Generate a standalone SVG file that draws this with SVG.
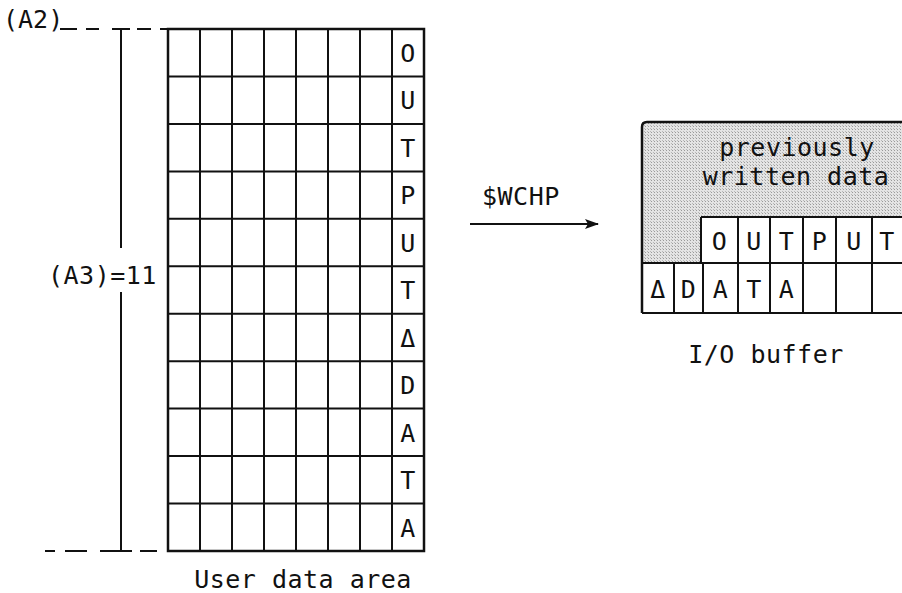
<svg xmlns="http://www.w3.org/2000/svg" width="902" height="593" viewBox="0 0 902 593">
<style>
  .t { font-family: "DejaVu Sans Mono", "Liberation Mono", monospace; font-size: 25px; fill: #111; letter-spacing: 0.5px; }
  .c { text-anchor: middle; }
  .ln { stroke: #111; stroke-width: 2; fill: none; }
  .ob { stroke: #111; stroke-width: 2.5; fill: none; }
</style>
<defs>
  <marker id="ah" viewBox="0 0 14 10" refX="13" refY="5" markerWidth="14" markerHeight="10" markerUnits="userSpaceOnUse" orient="auto">
    <path d="M0,0 L14,5 L0,10 L3,5 Z" fill="#111"/>
  </marker>
  <pattern id="dots" width="3" height="3" patternUnits="userSpaceOnUse">
    <rect width="3" height="3" fill="#e4e4e4"/>
    <rect width="1" height="1" fill="#9a9a9a"/>
    <rect x="2" y="2" width="1" height="1" fill="#b8b8b8"/>
  </pattern>
</defs>

<g id="dimension">
  <text class="t" x="3" y="28" style="letter-spacing:0">(A2)</text>
  <g class="ln">
    <line x1="60" y1="29" x2="77" y2="29"/>
    <line x1="86" y1="29" x2="99" y2="29"/>
    <line x1="112" y1="29" x2="130" y2="29"/>
    <line x1="137" y1="29" x2="151" y2="29"/>
    <line x1="160" y1="29" x2="168" y2="29"/>
    <line x1="45" y1="551" x2="55" y2="551"/>
    <line x1="65" y1="551" x2="87" y2="551"/>
    <line x1="100" y1="551" x2="132" y2="551"/>
    <line x1="140" y1="551" x2="157" y2="551"/>
    <line x1="121" y1="29" x2="121" y2="248"/>
    <line x1="121" y1="292" x2="121" y2="551"/>
  </g>
  <text class="t" x="48" y="284">(A3)=11</text>
</g>

<g id="user-data-area">
  <g class="ln">
    <line x1="200" y1="29" x2="200" y2="551"/>
    <line x1="232" y1="29" x2="232" y2="551"/>
    <line x1="264" y1="29" x2="264" y2="551"/>
    <line x1="296" y1="29" x2="296" y2="551"/>
    <line x1="328" y1="29" x2="328" y2="551"/>
    <line x1="360" y1="29" x2="360" y2="551"/>
    <line x1="392" y1="29" x2="392" y2="551"/>
    <line x1="168" y1="76.5" x2="424" y2="76.5"/>
    <line x1="168" y1="123.9" x2="424" y2="123.9"/>
    <line x1="168" y1="171.4" x2="424" y2="171.4"/>
    <line x1="168" y1="218.8" x2="424" y2="218.8"/>
    <line x1="168" y1="266.3" x2="424" y2="266.3"/>
    <line x1="168" y1="313.7" x2="424" y2="313.7"/>
    <line x1="168" y1="361.2" x2="424" y2="361.2"/>
    <line x1="168" y1="408.6" x2="424" y2="408.6"/>
    <line x1="168" y1="456.1" x2="424" y2="456.1"/>
    <line x1="168" y1="503.5" x2="424" y2="503.5"/>
  </g>
  <rect class="ob" x="168" y="29" width="256" height="522"/>
  <g class="t c">
    <text x="408" y="62">O</text>
    <text x="408" y="109">U</text>
    <text x="408" y="157">T</text>
    <text x="408" y="204">P</text>
    <text x="408" y="252">U</text>
    <text x="408" y="299">T</text>
    <text x="408" y="347">Δ</text>
    <text x="408" y="394">D</text>
    <text x="408" y="442">A</text>
    <text x="408" y="489">T</text>
    <text x="408" y="537">A</text>
  </g>
  <text class="t c" x="303" y="588">User data area</text>
</g>

<g id="connectors">
  <line class="ln" x1="470" y1="224" x2="598" y2="224" marker-end="url(#ah)"/>
  <text class="t" x="482" y="205">$WCHP</text>
</g>

<g id="io-buffer">
  <rect x="642" y="122" width="262" height="141" fill="url(#dots)"/>
  <rect x="701" y="217" width="203" height="46" fill="#fff"/>
  <rect x="642" y="263" width="262" height="50" fill="#fff"/>
  <path class="ob" d="M642,313 V127 Q642,122 647,122 H904"/>
  <line class="ln" x1="642" y1="313" x2="904" y2="313"/>
  <line class="ln" x1="642" y1="263" x2="904" y2="263"/>
  <line class="ln" x1="701" y1="217" x2="904" y2="217"/>
  <g class="ln">
    <line x1="701" y1="217" x2="701" y2="263"/>
    <line x1="738" y1="217" x2="738" y2="313"/>
    <line x1="770" y1="217" x2="770" y2="313"/>
    <line x1="803" y1="217" x2="803" y2="313"/>
    <line x1="836" y1="217" x2="836" y2="313"/>
    <line x1="872" y1="217" x2="872" y2="313"/>
    <line x1="674" y1="263" x2="674" y2="313"/>
    <line x1="703" y1="263" x2="703" y2="313"/>
  </g>
  <text class="t c" x="797" y="156">previously</text>
  <text class="t c" x="796" y="185">written data</text>
  <g class="t c">
    <text x="719.5" y="250">O</text>
    <text x="754" y="250">U</text>
    <text x="786.5" y="250">T</text>
    <text x="819.5" y="250">P</text>
    <text x="854" y="250">U</text>
    <text x="887" y="250">T</text>
    <text x="658" y="298">Δ</text>
    <text x="688.5" y="298">D</text>
    <text x="720.5" y="298">A</text>
    <text x="754" y="298">T</text>
    <text x="786.5" y="298">A</text>
  </g>
  <text class="t c" x="766" y="363">I/O buffer</text>
</g>
</svg>
